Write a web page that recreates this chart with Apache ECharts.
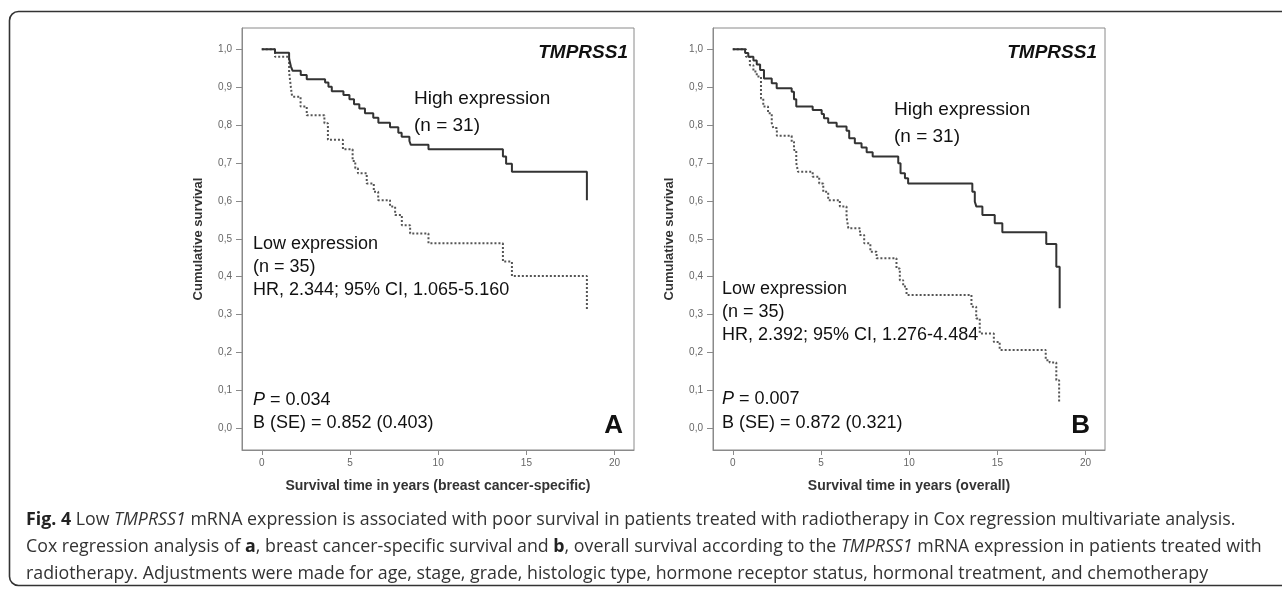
<!DOCTYPE html>
<html>
<head>
<meta charset="utf-8">
<script src="https://cdn.jsdelivr.net/npm/echarts@6/dist/echarts.min.js"></script>
<style>
  html, body { margin: 0; padding: 0; background: #fff; }
  #chart { width: 1282px; height: 590px; }
</style>
</head>
<body>
<div id="chart"></div>
<script>
// tick values
const xTicks = [0, 5, 10, 15, 20]
const yTicks = [0, 0.1, 0.2, 0.3, 0.4, 0.5, 0.6, 0.7, 0.8, 0.9, 1.0]

// A: breast cancer-specific survival (time in years, survival after the step)
const aHighT = [0, 0.75, 1.55, 1.65, 1.75, 2.21, 2.55, 3.59, 3.78, 3.97, 4.63, 4.97, 5.23, 5.53, 5.85, 6.32, 6.61, 7.27, 7.74, 7.93, 8.37, 8.45, 9.45, 13.67, 13.85, 14.18, 18.43]
const aHighS = [1.0, 0.991, 0.975, 0.955, 0.943, 0.932, 0.921, 0.912, 0.901, 0.889, 0.879, 0.868, 0.855, 0.844, 0.831, 0.819, 0.806, 0.794, 0.780, 0.769, 0.758, 0.748, 0.736, 0.717, 0.698, 0.677, 0.602]
const aLowT = [0, 0.75, 1.55, 1.65, 1.72, 2.2, 2.55, 3.55, 3.75, 4.6, 5.15, 5.3, 5.45, 5.95, 6.35, 6.6, 7.27, 7.56, 7.94, 8.41, 9.45, 13.67, 14.18, 18.43]
const aLowS = [1.0, 0.980, 0.94, 0.90, 0.875, 0.849, 0.826, 0.805, 0.761, 0.736, 0.705, 0.686, 0.673, 0.646, 0.624, 0.602, 0.585, 0.563, 0.536, 0.514, 0.488, 0.44, 0.402, 0.312]

// B: overall survival
const bHighT = [0, 0.70, 0.88, 1.17, 1.36, 1.55, 1.77, 2.21, 2.49, 3.34, 3.47, 3.6, 4.53, 5.04, 5.17, 5.41, 5.89, 6.45, 6.6, 6.92, 7.30, 7.59, 7.93, 9.38, 9.51, 9.76, 9.94, 13.58, 13.72, 13.81, 14.15, 14.85, 15.28, 17.77, 18.34, 18.53]
const bHighS = [1.0, 0.99, 0.98, 0.97, 0.96, 0.945, 0.923, 0.910, 0.897, 0.888, 0.868, 0.849, 0.840, 0.829, 0.818, 0.806, 0.796, 0.785, 0.765, 0.752, 0.741, 0.728, 0.717, 0.699, 0.673, 0.660, 0.646, 0.624, 0.598, 0.585, 0.563, 0.541, 0.517, 0.486, 0.426, 0.317]
const bLowT = [0, 0.75, 0.97, 1.17, 1.36, 1.6, 1.73, 2.0, 2.21, 2.3, 2.5, 3.34, 3.47, 3.6, 3.7, 4.53, 4.9, 5.13, 5.41, 6.07, 6.45, 6.55, 7.21, 7.45, 7.8, 8.15, 9.28, 9.47, 9.66, 9.85, 13.53, 13.8, 14.0, 14.8, 15.13, 17.74, 17.96, 18.34, 18.5]
const bLowS = [1.0, 0.98, 0.958, 0.941, 0.928, 0.87, 0.849, 0.831, 0.805, 0.792, 0.772, 0.756, 0.734, 0.70, 0.677, 0.664, 0.646, 0.624, 0.602, 0.585, 0.558, 0.528, 0.510, 0.488, 0.466, 0.449, 0.422, 0.391, 0.374, 0.352, 0.321, 0.290, 0.25, 0.228, 0.207, 0.180, 0.174, 0.127, 0.066]

const pairs = (ts, ss) => ts.map((t, i) => [t, ss[i]])

const chart = echarts.init(document.getElementById('chart'), null, { renderer: 'canvas' })

const plotFont = 'Liberation Sans, Arial, sans-serif'
const axisFont = 'Liberation Sans Narrow, Liberation Sans, Arial, sans-serif'
const capFont = 'Open Sans, sans-serif'
const capSize = 17.8

const setXAxis = (gridIndex, name) => ({
  type: 'value',
  gridIndex,
  min: -1.12,
  max: 21.1,
  name,
  nameLocation: 'middle',
  nameGap: 29,
  nameTextStyle: { color: '#333', fontWeight: 'bold', fontSize: 14, fontFamily: axisFont },
  splitLine: { show: false },
  axisLine: { show: true, onZero: false, lineStyle: { color: '#8a8a8a' } },
  axisTick: { show: true, length: 5, customValues: xTicks, lineStyle: { color: '#8a8a8a' } },
  axisLabel: { customValues: xTicks, color: '#666', fontSize: 10, margin: 8, fontFamily: plotFont },
})

const setYAxis = (gridIndex) => ({
  type: 'value',
  gridIndex,
  min: -0.057,
  max: 1.056,
  name: 'Cumulative survival',
  nameLocation: 'middle',
  nameGap: 37,
  nameTextStyle: { color: '#333', fontWeight: 'bold', fontSize: 13, fontFamily: axisFont },
  splitLine: { show: false },
  axisLine: { show: true, onZero: false, lineStyle: { color: '#8a8a8a' } },
  axisTick: { show: true, length: 6, customValues: yTicks, lineStyle: { color: '#8a8a8a' } },
  axisLabel: {
    customValues: yTicks,
    color: '#666',
    fontSize: 10,
    margin: 10,
    fontFamily: plotFont,
    formatter: (v) => v.toFixed(1).replace('.', ','),
  },
})

const setSeries = (xi, data, dotted) => ({
  type: 'line',
  xAxisIndex: xi,
  yAxisIndex: xi,
  step: 'end',
  showSymbol: false,
  symbol: 'none',
  lineStyle: dotted
    ? { color: '#555', width: 2, type: [2, 2] }
    : { color: '#333', width: 2 },
  data,
})

const txt = (x, y, text, opts = {}) => ({
  type: 'text',
  x,
  y,
  style: {
    text,
    fill: '#111',
    fontSize: 18,
    fontFamily: plotFont,
    textAlign: 'left',
    textVerticalAlign: 'middle',
    rich: {
      i: { fontStyle: 'italic', fontSize: 18, fontFamily: plotFont, fill: '#111' },
    },
    ...opts,
  },
})

const capRich = {
  b: { fontWeight: 'bold', fontSize: capSize, fontFamily: capFont, fill: '#222' },
  i: { fontStyle: 'italic', fontSize: capSize, fontFamily: capFont, fill: '#333' },
}
const capLine = (y, text) => ({
  type: 'text',
  x: 26,
  y,
  style: {
    text,
    fill: '#333',
    fontSize: capSize,
    fontFamily: capFont,
    textVerticalAlign: 'middle',
    rich: capRich,
  },
})

const option = {
  animation: false,
  backgroundColor: '#fff',
  grid: [
    { left: 242, right: 648, top: 28, bottom: 140, show: true, borderColor: '#8a8a8a', borderWidth: 1 },
    { left: 713, right: 177, top: 28, bottom: 140, show: true, borderColor: '#8a8a8a', borderWidth: 1 },
  ],
  xAxis: [
    setXAxis(0, 'Survival time in years (breast cancer-specific)'),
    setXAxis(1, 'Survival time in years (overall)'),
  ],
  yAxis: [setYAxis(0), setYAxis(1)],
  series: [
    setSeries(0, pairs(aLowT, aLowS), true),
    setSeries(0, pairs(aHighT, aHighS), false),
    setSeries(1, pairs(bLowT, bLowS), true),
    setSeries(1, pairs(bHighT, bHighS), false),
  ],
  graphic: [
    // outer frame
    {
      type: 'rect',
      shape: { x: 9.5, y: 11.5, width: 1300, height: 574, r: 9 },
      style: { fill: 'none', stroke: '#333', lineWidth: 1.6 },
    },
    // panel A texts
    txt(628, 53, 'TMPRSS1', { textAlign: 'right', fontSize: 19, fontWeight: 'bold', fontStyle: 'italic' }),
    txt(414, 99, 'High expression', { fontSize: 19 }),
    txt(414, 126, '(n = 31)', { fontSize: 19 }),
    txt(253, 244, 'Low expression'),
    txt(253, 267, '(n = 35)'),
    txt(253, 290, 'HR, 2.344; 95% CI, 1.065-5.160'),
    txt(253, 400, '{i|P} = 0.034'),
    txt(253, 423, 'B (SE) = 0.852 (0.403)'),
    txt(623, 426, 'A', { textAlign: 'right', fontSize: 26, fontWeight: 'bold' }),
    // panel B texts
    txt(1097, 53, 'TMPRSS1', { textAlign: 'right', fontSize: 19, fontWeight: 'bold', fontStyle: 'italic' }),
    txt(894, 110, 'High expression', { fontSize: 19 }),
    txt(894, 137, '(n = 31)', { fontSize: 19 }),
    txt(722, 289, 'Low expression'),
    txt(722, 312, '(n = 35)'),
    txt(722, 335, 'HR, 2.392; 95% CI, 1.276-4.484'),
    txt(722, 399, '{i|P} = 0.007'),
    txt(722, 423, 'B (SE) = 0.872 (0.321)'),
    txt(1090, 426, 'B', { textAlign: 'right', fontSize: 26, fontWeight: 'bold' }),
    // caption
    capLine(520, '{b|Fig. 4} Low {i|TMPRSS1} mRNA expression is associated with poor survival in patients treated with radiotherapy in Cox regression multivariate analysis.'),
    capLine(547, 'Cox regression analysis of {b|a}, breast cancer-specific survival and {b|b}, overall survival according to the {i|TMPRSS1} mRNA expression in patients treated with'),
    capLine(574, 'radiotherapy. Adjustments were made for age, stage, grade, histologic type, hormone receptor status, hormonal treatment, and chemotherapy'),
  ],
}

option && chart.setOption(option)
</script>
</body>
</html>
